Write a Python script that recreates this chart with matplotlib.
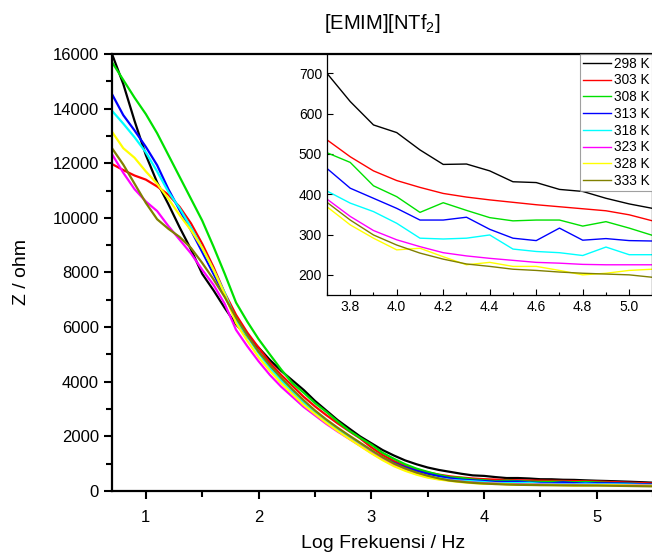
import numpy as np
import matplotlib
matplotlib.use('Agg')
import matplotlib.pyplot as plt
from matplotlib.ticker import MultipleLocator

plt.rcParams['font.family'] = ['Liberation Sans', 'DejaVu Sans']
plt.rcParams['mathtext.fontset'] = 'custom'
plt.rcParams['mathtext.rm'] = 'Liberation Sans'
plt.rcParams['mathtext.it'] = 'Liberation Sans'

# log frequency grid, 0.7 .. 5.5 step 0.1
log_f = np.round(np.arange(0.7, 5.55, 0.1), 1)

labels = ['298 K', '303 K', '308 K', '313 K', '318 K', '323 K', '328 K', '333 K']
colors = ['#000000', '#ff0000', '#00e000', '#0000ff', '#00ffff', '#ff00ff', '#ffff00', '#808000']

z_298 = [16000, 14900, 13550, 12300, 11300, 10500, 9650, 8850, 7950, 7350,
         6700, 6100, 5650, 5250, 4800, 4400, 4050, 3700, 3300, 2950,
         2600, 2300, 2000, 1750, 1500, 1300, 1120, 980, 860, 770,
         700, 630, 572, 553, 510, 474, 475, 458, 431, 429,
         412, 407, 390, 376, 365, 352, 338, 322, 305]
z_303 = [11970, 11750, 11550, 11400, 11150, 10850, 10400, 9800, 9050, 8200,
         7250, 6450, 5800, 5250, 4700, 4250, 3850, 3450, 3100, 2780,
         2480, 2200, 1930, 1600, 1320, 1100, 920, 780, 680, 600,
         535, 493, 458, 434, 417, 402, 393, 386, 380, 374,
         369, 364, 359, 349, 334, 320, 305, 290, 275]
z_308 = [15700, 15050, 14400, 13800, 13100, 12300, 11500, 10700, 9900, 8950,
         7950, 6900, 6200, 5560, 5000, 4450, 3950, 3600, 3220, 2900,
         2550, 2220, 1950, 1700, 1400, 1180, 980, 820, 700, 590,
         503, 479, 421, 394, 355, 379, 360, 342, 334, 336,
         336, 321, 332, 316, 298, 285, 270, 255, 240]
z_313 = [14530, 13760, 13200, 12600, 11930, 11050, 10280, 9550, 8750, 7950,
         7150, 6300, 5700, 5100, 4600, 4100, 3650, 3250, 2900, 2550,
         2240, 1950, 1680, 1440, 1220, 1030, 870, 740, 630, 540,
         464, 415, 390, 365, 336, 336, 343, 313, 291, 285,
         316, 286, 290, 285, 284, 278, 265, 250, 238]
z_318 = [13920, 13450, 12950, 12400, 11700, 10950, 10350, 9650, 8900, 8100,
         7250, 6250, 5650, 5050, 4500, 4050, 3650, 3250, 2900, 2580,
         2280, 2000, 1730, 1470, 1200, 980, 800, 660, 550, 470,
         408, 378, 357, 328, 291, 289, 291, 299, 264, 258,
         255, 248, 269, 250, 250, 243, 235, 225, 215]
z_323 = [12330, 11650, 11050, 10600, 10250, 9700, 9200, 8700, 8100, 7550,
         6850, 5900, 5300, 4750, 4250, 3820, 3450, 3080, 2770, 2460,
         2180, 1920, 1660, 1400, 1160, 950, 780, 640, 520, 440,
         388, 345, 310, 287, 270, 255, 247, 241, 236, 231,
         229, 226, 225, 225, 225, 220, 212, 205, 198]
z_328 = [13150, 12550, 12200, 11700, 11250, 10700, 10100, 9550, 8900, 8100,
         7200, 6150, 5500, 4900, 4400, 3950, 3550, 3150, 2820, 2500,
         2200, 1920, 1650, 1380, 1130, 910, 740, 600, 490, 420,
         369, 324, 291, 262, 266, 245, 225, 231, 221, 221,
         211, 200, 204, 211, 214, 210, 203, 196, 190]
z_333 = [12550, 11950, 11250, 10550, 9950, 9600, 9300, 8900, 8350, 7750,
         7100, 6350, 5700, 5100, 4600, 4150, 3720, 3320, 2950, 2620,
         2320, 2040, 1770, 1500, 1240, 1010, 830, 680, 560, 460,
         380, 336, 299, 274, 254, 239, 227, 221, 214, 211,
         207, 204, 202, 200, 194, 188, 182, 176, 170]

series = [z_298, z_303, z_308, z_313, z_318, z_323, z_328, z_333]

fig = plt.figure(figsize=(6.52, 5.56), dpi=100)
ax = fig.add_axes([0.1718, 0.1169, 0.83, 0.786])
for z, c in zip(series, colors):
    ax.plot(log_f, z, color=c, lw=1.6)
ax.set_xlim(0.7, 5.5)
ax.set_ylim(0, 16000)
ax.xaxis.set_major_locator(MultipleLocator(1))
ax.xaxis.set_minor_locator(MultipleLocator(0.5))
ax.yaxis.set_major_locator(MultipleLocator(2000))
ax.yaxis.set_minor_locator(MultipleLocator(1000))
ax.tick_params(which='both', direction='out', width=1.5, labelsize=12)
ax.tick_params(which='major', length=6)
ax.tick_params(which='minor', length=4)
ax.tick_params(axis='x', pad=8)
for s in ax.spines.values():
    s.set_linewidth(1.6)

# inset
axi = fig.add_axes([0.5015, 0.4694, 0.4992, 0.4335])
for z, c, lab in zip(series, colors, labels):
    axi.plot(log_f, z, color=c, lw=1.0, label=lab)
axi.set_xlim(3.7, 5.1)
axi.set_ylim(150, 748)
axi.xaxis.set_minor_locator(MultipleLocator(0.1))
axi.yaxis.set_major_locator(MultipleLocator(100))
axi.set_xticks([3.8, 4.0, 4.2, 4.4, 4.6, 4.8, 5.0])
axi.set_xticklabels(['3.8', '4.0', '4.2', '4.4', '4.6', '4.8', '5.0'])
axi.tick_params(which='both', direction='in', width=0.8, labelsize=10)
axi.tick_params(which='major', length=4)
axi.tick_params(which='minor', length=2.5)
for s in axi.spines.values():
    s.set_linewidth(0.9)
leg = axi.legend(loc='upper left', bbox_to_anchor=(580 / 652, 1 - 54 / 556),
                 bbox_transform=fig.transFigure, fontsize=9.8,
                 frameon=True, fancybox=False, edgecolor='#888888',
                 handlelength=2.1, handletextpad=0.2, labelspacing=0.2,
                 borderpad=0.2, borderaxespad=0.0)
leg.get_frame().set_linewidth(0.8)

fig.text(0.587, 0.957, '[EMIM][NTf$_2$]', ha='center', va='center', fontsize=14.5)
fig.text(0.033, 0.51, 'Z / ohm', rotation=90, ha='center', va='center', fontsize=14)
fig.text(0.587, 0.022, 'Log Frekuensi / Hz', ha='center', va='center', fontsize=14)

fig.savefig('out.png', dpi=100)
